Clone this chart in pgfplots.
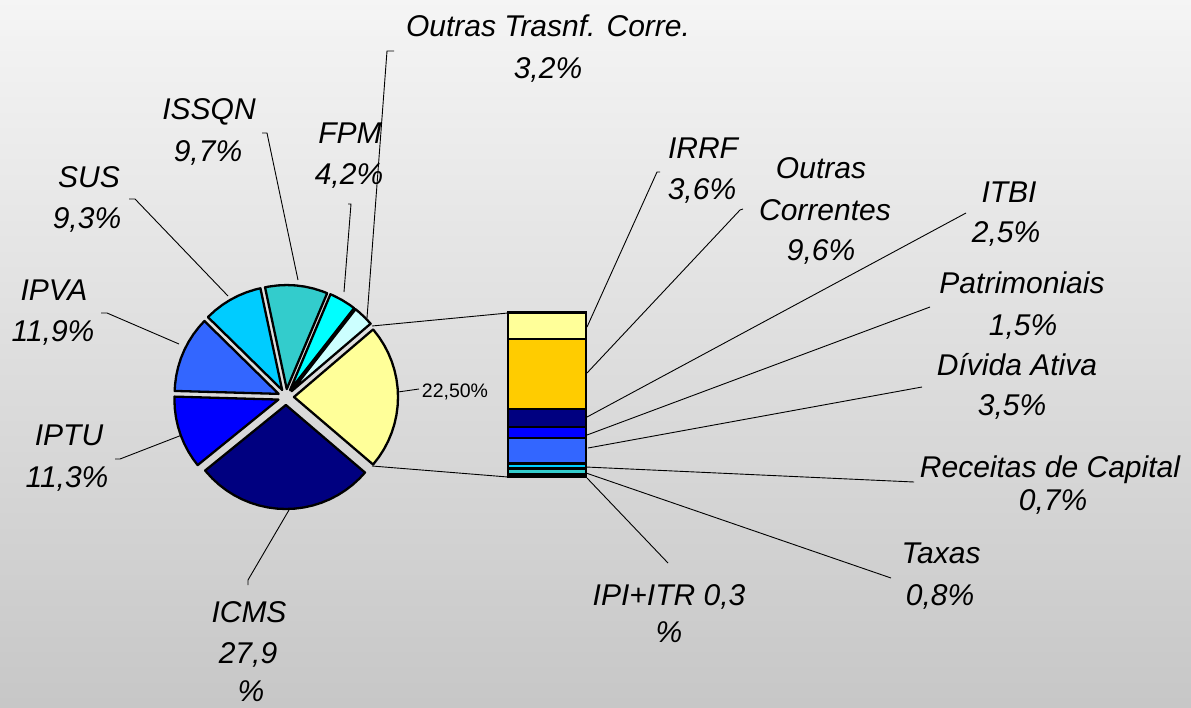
\documentclass[border=0pt]{standalone}
\usepackage{pgfplots}
\pgfplotsset{compat=1.18}
\usepackage{fontspec}
\setmainfont{Liberation Sans}
\definecolor{cNavy}{HTML}{000080}
\definecolor{cBlue}{HTML}{0000FF}
\definecolor{cRoyal}{HTML}{3366FF}
\definecolor{cSky}{HTML}{00CCFF}
\definecolor{cTeal}{HTML}{33CCCC}
\definecolor{cCyan}{HTML}{00FFFF}
\definecolor{cLCyan}{HTML}{CCFFFF}
\definecolor{cLYellow}{HTML}{FFFF99}
\definecolor{cGold}{HTML}{FFCC00}
\begin{document}
\begin{tikzpicture}[
  lbl/.style={font=\itshape\fontsize{30}{41}\selectfont, anchor=base, inner sep=0pt},
  lead/.style={line width=0.9pt, black}]
% ---------- canvas (pixel coordinates, y downwards) ----------
\begin{axis}[at={(0pt,0pt)}, anchor=south west, scale only axis,
  width=1191pt, height=707pt, xmin=0, xmax=1191, ymin=0, ymax=707,
  y dir=reverse, axis line style={draw=none}, ticks=none, clip=false,
  axis background/.style={shade, top color=black!4, bottom color=black!22}]
% leader lines main pie
\draw[lead] (axis cs:367,318) -- (axis cs:387,51) -- (axis cs:394,51);
\draw[lead] (axis cs:344,292) -- (axis cs:351,204) -- (axis cs:348,204);
\draw[lead] (axis cs:298,280) -- (axis cs:267,133) -- (axis cs:262,133);
\draw[lead] (axis cs:228,296) -- (axis cs:135,199) -- (axis cs:129,199);
\draw[lead] (axis cs:179,344) -- (axis cs:107,313) -- (axis cs:101,313);
\draw[lead] (axis cs:182,435) -- (axis cs:120,459) -- (axis cs:115,459);
\draw[lead] (axis cs:289,510) -- (axis cs:248,580) -- (axis cs:248,585);
\draw[lead] (axis cs:398,392) -- (axis cs:419,389);
% connectors pie -> bar
\draw[lead] (axis cs:372,326) -- (axis cs:508,313);
\draw[lead] (axis cs:372,466) -- (axis cs:508,477);
% leader lines bar
\draw[lead] (axis cs:587,327) -- (axis cs:657,172) -- (axis cs:660,172);
\draw[lead] (axis cs:587,373) -- (axis cs:740,210) -- (axis cs:743,209);
\draw[lead] (axis cs:587,417) -- (axis cs:966,213);
\draw[lead] (axis cs:587,435) -- (axis cs:930,307);
\draw[lead] (axis cs:588,448) -- (axis cs:922,387);
\draw[lead] (axis cs:586,467) -- (axis cs:914,482);
\draw[lead] (axis cs:586,473) -- (axis cs:891,578);
\draw[lead] (axis cs:587,478) -- (axis cs:668,563);
% labels main pie
\node[lbl] at (axis cs:548,36.7) {Outras Trasnf. Corre.};
\node[lbl] at (axis cs:548,78) {3,2\%};
\node[lbl] at (axis cs:209,119) {ISSQN};
\node[lbl] at (axis cs:208,161) {9,7\%};
\node[lbl] at (axis cs:350,143) {FPM};
\node[lbl] at (axis cs:349,184) {4,2\%};
\node[lbl] at (axis cs:89,187) {SUS};
\node[lbl] at (axis cs:87,228) {9,3\%};
\node[lbl] at (axis cs:54,300) {IPVA};
\node[lbl] at (axis cs:53,341) {11,9\%};
\node[lbl] at (axis cs:69,445) {IPTU};
\node[lbl] at (axis cs:67,487) {11,3\%};
\node[lbl] at (axis cs:249,622) {ICMS};
\node[lbl] at (axis cs:248,663) {27,9};
\node[lbl] at (axis cs:251,701) {\%};
\node[anchor=base, inner sep=0pt, font=\fontsize{19.5}{23}\selectfont] at (axis cs:455,397) {22,50\%};
% labels bar
\node[lbl] at (axis cs:703,158) {IRRF};
\node[lbl] at (axis cs:702,199) {3,6\%};
\node[lbl] at (axis cs:821,178) {Outras};
\node[lbl] at (axis cs:825,220) {Correntes};
\node[lbl] at (axis cs:821,260) {9,6\%};
\node[lbl] at (axis cs:1009,202) {ITBI};
\node[lbl] at (axis cs:1006,242) {2,5\%};
\node[lbl] at (axis cs:1022,293) {Patrimoniais};
\node[lbl] at (axis cs:1023,335) {1,5\%};
\node[lbl] at (axis cs:1017,375) {Dívida Ativa};
\node[lbl] at (axis cs:1012,415) {3,5\%};
\node[lbl] at (axis cs:1050,477) {Receitas de Capital};
\node[lbl] at (axis cs:1053,510) {0,7\%};
\node[lbl] at (axis cs:941,563) {Taxas};
\node[lbl] at (axis cs:940,605) {0,8\%};
\node[lbl] at (axis cs:669,605) {IPI+ITR 0,3};
\node[lbl] at (axis cs:669,642) {\%};
\end{axis}
% ---------- main pie (polar data: angle, radius) ----------
\begin{axis}[at={(286pt,310pt)}, anchor=center, scale only axis,
  width=240pt, height=240pt, xmin=-120, xmax=120, ymin=-120, ymax=120,
  hide axis, clip=false]
\pgfplotsset{every axis plot/.append style={draw=black, line width=2.3pt, line join=round, data cs=polar}}
% Outros (22,5%)
\addplot[fill=cLYellow, xshift=8pt] coordinates {(0,0) (-40.5,104) (-35,104) (-30,104) (-25,104) (-20,104) (-15,104) (-10,104) (-5,104) (0,104) (5,104) (10,104) (15,104) (20,104) (25,104) (30,104) (35,104) (40,104) (40.5,104)} -- cycle;
% Outras Trasnf. Corre. 3,2%
\addplot[fill=cLCyan, xshift=5.53pt, yshift=5.78pt] coordinates {(0,0) (40.5,104) (45,104) (50,104) (52.02,104)} -- cycle;
% FPM 4,2%
\addplot[fill=cCyan, xshift=4.05pt, yshift=6.9pt] coordinates {(0,0) (52.02,104) (55,104) (60,104) (65,104) (67.14,104)} -- cycle;
% ISSQN 9,7%
\addplot[fill=cTeal, xshift=0.75pt, yshift=7.96pt] coordinates {(0,0) (67.14,104) (70,104) (75,104) (80,104) (85,104) (90,104) (95,104) (100,104) (102.06,104)} -- cycle;
% SUS 9,3%
\addplot[fill=cSky, xshift=-3.85pt, yshift=7.01pt] coordinates {(0,0) (102.06,104) (105,104) (110,104) (115,104) (120,104) (125,104) (130,104) (135,104) (135.54,104)} -- cycle;
% IPVA 11,9%
\addplot[fill=cRoyal, xshift=-7.36pt, yshift=3.13pt] coordinates {(0,0) (135.54,104) (140,104) (145,104) (150,104) (155,104) (160,104) (165,104) (170,104) (175,104) (178.38,104)} -- cycle;
% IPTU 11,3%
\addplot[fill=cBlue, xshift=-7.58pt, yshift=-2.57pt] coordinates {(0,0) (178.38,104) (180,104) (185,104) (190,104) (195,104) (200,104) (205,104) (210,104) (215,104) (219.06,104)} -- cycle;
% ICMS 27,9%
\addplot[fill=cNavy, xshift=-0.1pt, yshift=-8pt] coordinates {(0,0) (219.06,104) (220,104) (225,104) (230,104) (235,104) (240,104) (245,104) (250,104) (255,104) (260,104) (265,104) (270,104) (275,104) (280,104) (285,104) (290,104) (295,104) (300,104) (305,104) (310,104) (315,104) (319.5,104)} -- cycle;
\end{axis}
% ---------- secondary stacked bar ----------
\begin{axis}[at={(508pt,230.3pt)}, anchor=south west, scale only axis,
  width=78pt, height=164pt, xmin=0.5, xmax=1.5, ymin=0, ymax=22.5,
  hide axis, clip=false, ybar stacked, bar width=78pt]
\pgfplotsset{every axis plot/.append style={draw=black, line width=2.4pt}}
\addplot[fill=cCyan] coordinates {(1,0.3)};   % IPI+ITR
\addplot[fill=cTeal] coordinates {(1,0.8)};   % Taxas
\addplot[fill=cSky] coordinates {(1,0.7)};    % Receitas de Capital
\addplot[fill=cRoyal] coordinates {(1,3.5)};  % Divida Ativa
\addplot[fill=cBlue] coordinates {(1,1.5)};   % Patrimoniais
\addplot[fill=cNavy] coordinates {(1,2.5)};   % ITBI
\addplot[fill=cGold] coordinates {(1,9.6)};   % Outras Correntes
\addplot[fill=cLYellow] coordinates {(1,3.6)};% IRRF
\end{axis}
\end{tikzpicture}
\end{document}
